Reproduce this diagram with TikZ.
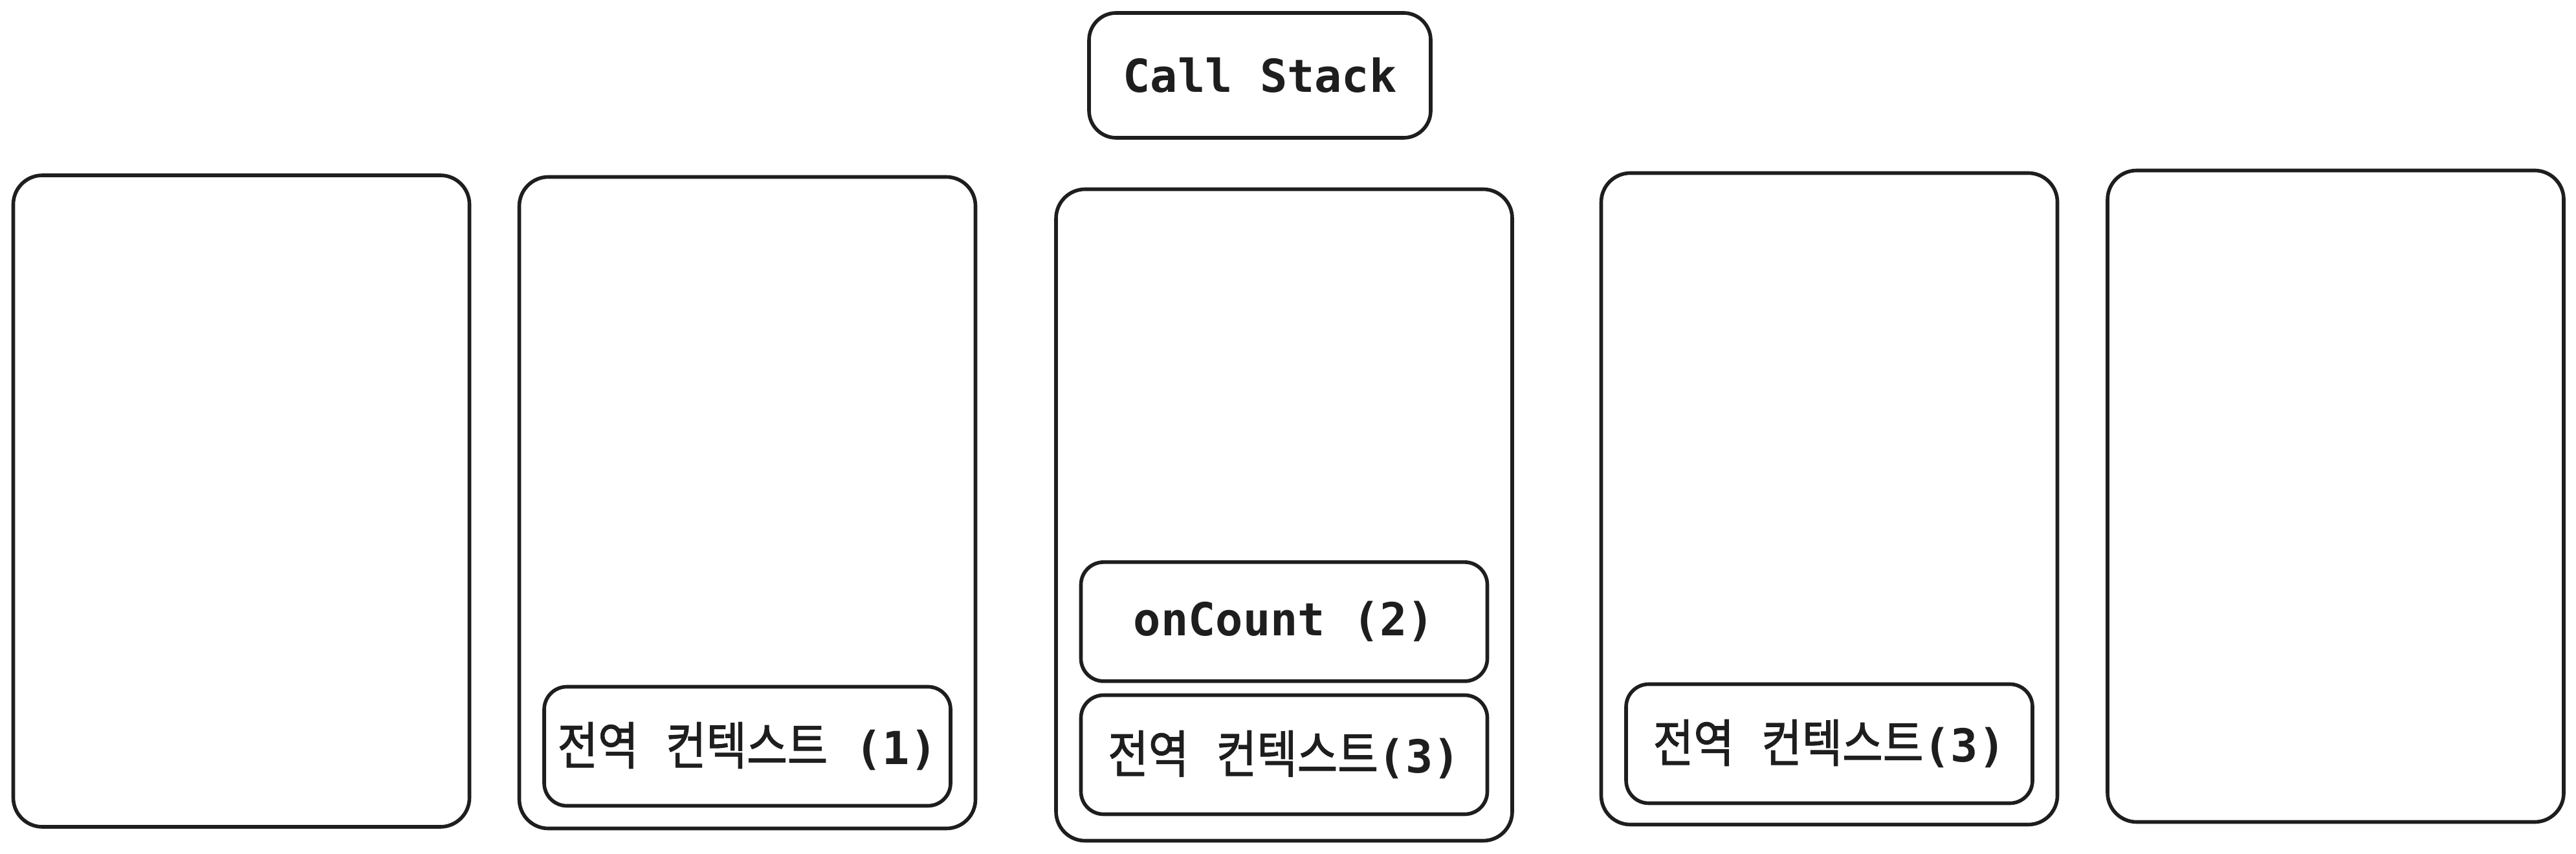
\documentclass[tikz,border=0pt]{standalone}
\usepackage{xcolor}
\usepackage{fontspec}
\setmonofont{DejaVu Sans Mono}
\newfontfamily\krfont[FakeBold=1.3, FakeStretch=0.86]{Noto Sans CJK KR}
\usetikzlibrary{positioning}
\definecolor{ink}{HTML}{1E1E1E}

\newcommand{\kr}[1]{{\krfont\mdseries\fontsize{22.5}{25}\selectfont #1}}

\begin{document}
\begin{tikzpicture}[line width=1.6pt, every node/.style={text=ink, font=\ttfamily\bfseries\fontsize{20}{25}\selectfont}]

  \tikzstyle{module}=[rounded corners=0.45cm, draw=ink, align=center]
  \tikzstyle{panel}=[module, minimum width=7.05cm, minimum height=10.07cm]
  \tikzstyle{frame}=[module, rounded corners=0.35cm, inner xsep=2pt, minimum width=6.28cm, minimum height=1.84cm]
  \tikzstyle{title}=[module, rounded corners=0.42cm, minimum width=5.28cm, minimum height=1.93cm]

  \useasboundingbox (0,0) rectangle (39.81,-13.20);

  \node [title] (stack) at (19.47,-1.165) {Call Stack};

  \node [panel] (P-1) at (3.73,-7.745) {};
  \node [panel] (P-2) at (11.55,-7.77) {};
  \node [panel] (P-3) at (19.845,-7.96) {};
  \node [panel] (P-4) at (28.27,-7.71) {};
  \node [panel] (P-5) at (36.095,-7.67) {};

  \node [frame, above = 0.35 of P-2.south] (P-2-global) {\kr{전역}~\kr{컨텍스트} (1)};
  \node [frame, above = 0.41 of P-3.south] (P-3-global) {\kr{전역}~\kr{컨텍스트}(3)};
  \node [frame, above = 0.16 of P-3-global] (P-3-count) {onCount (2)};
  \node [frame, above = 0.33 of P-4.south] (P-4-global) {\kr{전역}~\kr{컨텍스트}(3)};

\end{tikzpicture}
\end{document}
